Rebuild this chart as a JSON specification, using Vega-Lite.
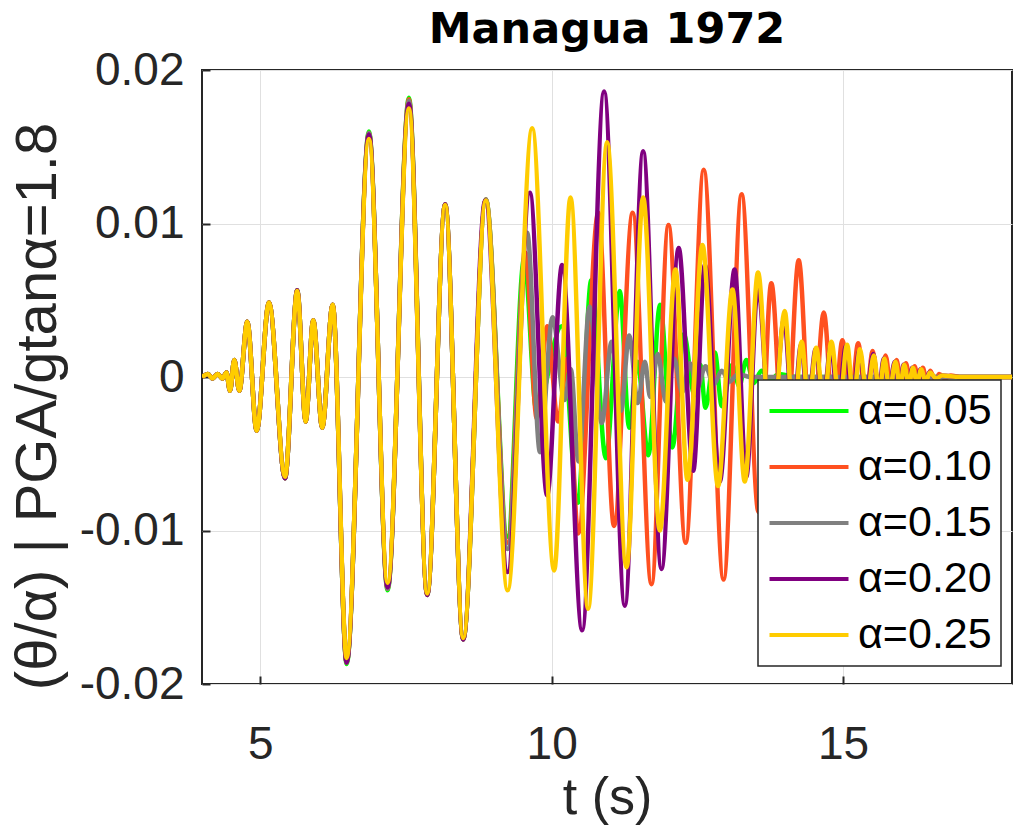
{
"$schema":"https://vega.github.io/schema/vega-lite/v6.json",
"width":810,"height":614,
"autosize":{"type":"none"},
"padding":{"left":202,"top":70,"right":1,"bottom":143},
"background":"white",
"title":{"text":"Managua 1972","font":"DejaVu Sans","fontWeight":"bold","fontSize":43,"color":"#000000","offset":0,"dy":5,"anchor":"middle"},
"config":{
 "view":{"stroke":"#262626","strokeWidth":2},
 "axis":{"domain":false,"grid":true,"gridColor":"#e0e0e0","gridWidth":1,"ticks":true,"tickSize":-8,"tickColor":"#262626","tickWidth":2,
  "labelFont":"Liberation Sans","labelFontSize":46,"labelColor":"#262626","titleFont":"Liberation Sans","titleFontWeight":"normal","titleColor":"#262626"},
 "legend":{"symbolType":"M-2,0H2","symbolSize":1560,"symbolOffset":20,"symbolStrokeWidth":4,"labelFont":"Liberation Sans","labelFontSize":43,"labelColor":"#000000","labelOffset":27,"rowPadding":12,"padding":9,"fillColor":"white","strokeColor":"#262626","strokeWidth":1.5,"labelLimit":0}
},
"data":{"values":[
{"s":"α=0.05","t":4.0,"y":0},{"s":"α=0.05","t":4.1,"y":0.0002},{"s":"α=0.05","t":4.18,"y":-0.0001},{"s":"α=0.05","t":4.27,"y":0.0002},{"s":"α=0.05","t":4.35,"y":-0.0001},{"s":"α=0.05","t":4.42,"y":0.0003},{"s":"α=0.05","t":4.48,"y":-0.0009},{"s":"α=0.05","t":4.554,"y":0.0011},{"s":"α=0.05","t":4.64,"y":-0.0009},{"s":"α=0.05","t":4.777,"y":0.0036},{"s":"α=0.05","t":4.938,"y":-0.0035},{"s":"α=0.05","t":5.149,"y":0.00485},{"s":"α=0.05","t":5.424,"y":-0.0066},{"s":"α=0.05","t":5.635,"y":0.00565},{"s":"α=0.05","t":5.779,"y":-0.0029},{"s":"α=0.05","t":5.909,"y":0.0037},{"s":"α=0.05","t":6.063,"y":-0.0033},{"s":"α=0.05","t":6.242,"y":0.0047},{"s":"α=0.05","t":6.482,"y":-0.0187},{"s":"α=0.05","t":6.865,"y":0.016},{"s":"α=0.05","t":7.185,"y":-0.0139},{"s":"α=0.05","t":7.551,"y":0.0182},{"s":"α=0.05","t":7.865,"y":-0.0142},{"s":"α=0.05","t":8.173,"y":0.01125},{"s":"α=0.05","t":8.482,"y":-0.0171},{"s":"α=0.05","t":8.871,"y":0.01156},
{"s":"α=0.05","t":9.244,"y":-0.0104},{"s":"α=0.05","t":9.528,"y":0.0077},{"s":"α=0.05","t":9.74,"y":-0.0022},{"s":"α=0.05","t":10.17,"y":0.0033},{"s":"α=0.05","t":10.45,"y":-0.0082},{"s":"α=0.05","t":10.68,"y":0.0063},{"s":"α=0.05","t":10.93,"y":-0.0053},{"s":"α=0.05","t":11.17,"y":0.0056},{"s":"α=0.05","t":11.33,"y":-0.0033},{"s":"α=0.05","t":11.47,"y":0.001},{"s":"α=0.05","t":11.66,"y":-0.0051},{"s":"α=0.05","t":11.86,"y":0.0047},{"s":"α=0.05","t":12.07,"y":-0.0046},{"s":"α=0.05","t":12.27,"y":0.0028},{"s":"α=0.05","t":12.45,"y":-0.0012},{"s":"α=0.05","t":12.55,"y":0.0008},{"s":"α=0.05","t":12.64,"y":-0.002},{"s":"α=0.05","t":12.8,"y":0.0016},{"s":"α=0.05","t":12.92,"y":-0.0019},{"s":"α=0.05","t":13.1,"y":0.0008},{"s":"α=0.05","t":13.22,"y":-0.0006},{"s":"α=0.05","t":13.34,"y":0.0011},{"s":"α=0.05","t":13.47,"y":-0.0004},{"s":"α=0.05","t":13.6,"y":0.0004},{"s":"α=0.05","t":13.75,"y":-0.0002},{"s":"α=0.05","t":13.9,"y":0.0002},{"s":"α=0.05","t":14.2,"y":0},{"s":"α=0.05","t":17.9,"y":0},
{"s":"α=0.10","t":4.0,"y":0},{"s":"α=0.10","t":4.1,"y":0.0002},{"s":"α=0.10","t":4.18,"y":-0.0001},{"s":"α=0.10","t":4.27,"y":0.0002},{"s":"α=0.10","t":4.35,"y":-0.0001},{"s":"α=0.10","t":4.42,"y":0.0003},{"s":"α=0.10","t":4.48,"y":-0.0009},{"s":"α=0.10","t":4.554,"y":0.0011},{"s":"α=0.10","t":4.64,"y":-0.0009},{"s":"α=0.10","t":4.777,"y":0.0036},{"s":"α=0.10","t":4.938,"y":-0.0035},{"s":"α=0.10","t":5.149,"y":0.00485},{"s":"α=0.10","t":5.424,"y":-0.0066},{"s":"α=0.10","t":5.635,"y":0.00565},{"s":"α=0.10","t":5.779,"y":-0.0029},{"s":"α=0.10","t":5.909,"y":0.0037},{"s":"α=0.10","t":6.063,"y":-0.0033},{"s":"α=0.10","t":6.242,"y":0.0047},{"s":"α=0.10","t":6.482,"y":-0.0186},{"s":"α=0.10","t":6.865,"y":0.0159},{"s":"α=0.10","t":7.185,"y":-0.0138},{"s":"α=0.10","t":7.551,"y":0.0181},{"s":"α=0.10","t":7.865,"y":-0.0142},{"s":"α=0.10","t":8.173,"y":0.01125},{"s":"α=0.10","t":8.482,"y":-0.0171},{"s":"α=0.10","t":8.871,"y":0.01156},
{"s":"α=0.10","t":9.244,"y":-0.0108},{"s":"α=0.10","t":9.552,"y":0.0081},{"s":"α=0.10","t":9.745,"y":-0.0027},{"s":"α=0.10","t":9.925,"y":0.0033},{"s":"α=0.10","t":10.11,"y":-0.0029},{"s":"α=0.10","t":10.27,"y":0.0012},{"s":"α=0.10","t":10.455,"y":-0.0102},{"s":"α=0.10","t":10.8,"y":0.0107},{"s":"α=0.10","t":11.07,"y":-0.0097},{"s":"α=0.10","t":11.39,"y":0.0107},{"s":"α=0.10","t":11.713,"y":-0.0135},{"s":"α=0.10","t":12.005,"y":0.0099},{"s":"α=0.10","t":12.3,"y":-0.0108},{"s":"α=0.10","t":12.61,"y":0.0135},{"s":"α=0.10","t":12.95,"y":-0.0132},{"s":"α=0.10","t":13.26,"y":0.0119},{"s":"α=0.10","t":13.55,"y":-0.0088},{"s":"α=0.10","t":13.77,"y":0.0061},{"s":"α=0.10","t":14.0,"y":-0.0065},{"s":"α=0.10","t":14.24,"y":0.0076},{"s":"α=0.10","t":14.46,"y":-0.0052},{"s":"α=0.10","t":14.67,"y":0.0042},{"s":"α=0.10","t":14.84,"y":-0.003},{"s":"α=0.10","t":14.99,"y":0.0024},{"s":"α=0.10","t":15.13,"y":-0.0019},{"s":"α=0.10","t":15.26,"y":0.0022},{"s":"α=0.10","t":15.39,"y":-0.0016},{"s":"α=0.10","t":15.51,"y":0.0017},{"s":"α=0.10","t":15.62,"y":-0.0013},{"s":"α=0.10","t":15.73,"y":0.0014},{"s":"α=0.10","t":15.83,"y":-0.001},{"s":"α=0.10","t":15.92,"y":0.0011},{"s":"α=0.10","t":16.0,"y":-0.0008},{"s":"α=0.10","t":16.08,"y":0.0009},{"s":"α=0.10","t":16.16,"y":-0.0006},{"s":"α=0.10","t":16.23,"y":0.0007},{"s":"α=0.10","t":16.3,"y":-0.0005},{"s":"α=0.10","t":16.37,"y":0.0006},{"s":"α=0.10","t":16.44,"y":-0.0004},{"s":"α=0.10","t":16.5,"y":0.0004},{"s":"α=0.10","t":16.58,"y":-0.0003},{"s":"α=0.10","t":16.65,"y":0.0002},{"s":"α=0.10","t":16.75,"y":-0.0001},{"s":"α=0.10","t":16.85,"y":0.0001},{"s":"α=0.10","t":17.0,"y":0},{"s":"α=0.10","t":17.9,"y":0},
{"s":"α=0.15","t":4.0,"y":0},{"s":"α=0.15","t":4.1,"y":0.0002},{"s":"α=0.15","t":4.18,"y":-0.0001},{"s":"α=0.15","t":4.27,"y":0.0002},{"s":"α=0.15","t":4.35,"y":-0.0001},{"s":"α=0.15","t":4.42,"y":0.0003},{"s":"α=0.15","t":4.48,"y":-0.0009},{"s":"α=0.15","t":4.554,"y":0.0011},{"s":"α=0.15","t":4.64,"y":-0.0009},{"s":"α=0.15","t":4.777,"y":0.0036},{"s":"α=0.15","t":4.938,"y":-0.0035},{"s":"α=0.15","t":5.149,"y":0.00485},{"s":"α=0.15","t":5.424,"y":-0.0066},{"s":"α=0.15","t":5.635,"y":0.00565},{"s":"α=0.15","t":5.779,"y":-0.0029},{"s":"α=0.15","t":5.909,"y":0.0037},{"s":"α=0.15","t":6.063,"y":-0.0033},{"s":"α=0.15","t":6.242,"y":0.0047},{"s":"α=0.15","t":6.482,"y":-0.0186},{"s":"α=0.15","t":6.865,"y":0.0159},{"s":"α=0.15","t":7.185,"y":-0.0138},{"s":"α=0.15","t":7.551,"y":0.018},{"s":"α=0.15","t":7.865,"y":-0.0142},{"s":"α=0.15","t":8.173,"y":0.01125},{"s":"α=0.15","t":8.482,"y":-0.0171},{"s":"α=0.15","t":8.871,"y":0.01156},
{"s":"α=0.15","t":9.244,"y":-0.0112},{"s":"α=0.15","t":9.58,"y":0.0094},{"s":"α=0.15","t":9.8,"y":-0.0049},{"s":"α=0.15","t":10.015,"y":0.0039},{"s":"α=0.15","t":10.22,"y":-0.0015},{"s":"α=0.15","t":10.33,"y":0.0005},{"s":"α=0.15","t":10.46,"y":-0.0055},{"s":"α=0.15","t":10.65,"y":0.0046},{"s":"α=0.15","t":10.86,"y":-0.003},{"s":"α=0.15","t":11.03,"y":0.0023},{"s":"α=0.15","t":11.19,"y":-0.0022},{"s":"α=0.15","t":11.33,"y":0.0027},{"s":"α=0.15","t":11.48,"y":-0.0017},{"s":"α=0.15","t":11.6,"y":0.001},{"s":"α=0.15","t":11.69,"y":-0.0013},{"s":"α=0.15","t":11.82,"y":0.0015},{"s":"α=0.15","t":11.96,"y":-0.0016},{"s":"α=0.15","t":12.1,"y":0.0012},{"s":"α=0.15","t":12.24,"y":-0.001},{"s":"α=0.15","t":12.37,"y":0.0009},{"s":"α=0.15","t":12.5,"y":-0.0007},{"s":"α=0.15","t":12.64,"y":0.0007},{"s":"α=0.15","t":12.78,"y":-0.0005},{"s":"α=0.15","t":12.92,"y":0.0004},{"s":"α=0.15","t":13.05,"y":-0.0003},{"s":"α=0.15","t":13.2,"y":0.0002},{"s":"α=0.15","t":13.4,"y":0},{"s":"α=0.15","t":17.9,"y":0},
{"s":"α=0.20","t":4.0,"y":0},{"s":"α=0.20","t":4.1,"y":0.0002},{"s":"α=0.20","t":4.18,"y":-0.0001},{"s":"α=0.20","t":4.27,"y":0.0002},{"s":"α=0.20","t":4.35,"y":-0.0001},{"s":"α=0.20","t":4.42,"y":0.0003},{"s":"α=0.20","t":4.48,"y":-0.0009},{"s":"α=0.20","t":4.554,"y":0.0011},{"s":"α=0.20","t":4.64,"y":-0.0009},{"s":"α=0.20","t":4.777,"y":0.0036},{"s":"α=0.20","t":4.938,"y":-0.0035},{"s":"α=0.20","t":5.149,"y":0.00485},{"s":"α=0.20","t":5.424,"y":-0.0066},{"s":"α=0.20","t":5.635,"y":0.00565},{"s":"α=0.20","t":5.779,"y":-0.0029},{"s":"α=0.20","t":5.909,"y":0.0037},{"s":"α=0.20","t":6.063,"y":-0.0033},{"s":"α=0.20","t":6.242,"y":0.0047},{"s":"α=0.20","t":6.482,"y":-0.0186},{"s":"α=0.20","t":6.865,"y":0.0158},{"s":"α=0.20","t":7.185,"y":-0.0137},{"s":"α=0.20","t":7.551,"y":0.0178},{"s":"α=0.20","t":7.865,"y":-0.0142},{"s":"α=0.20","t":8.173,"y":0.01125},{"s":"α=0.20","t":8.482,"y":-0.0171},{"s":"α=0.20","t":8.86,"y":0.0115},
{"s":"α=0.20","t":9.244,"y":-0.0127},{"s":"α=0.20","t":9.626,"y":0.012},{"s":"α=0.20","t":9.923,"y":-0.0077},{"s":"α=0.20","t":10.18,"y":0.0073},{"s":"α=0.20","t":10.523,"y":-0.0165},{"s":"α=0.20","t":10.9,"y":0.0186},{"s":"α=0.20","t":11.256,"y":-0.0149},{"s":"α=0.20","t":11.57,"y":0.0147},{"s":"α=0.20","t":11.885,"y":-0.0125},{"s":"α=0.20","t":12.18,"y":0.0084},{"s":"α=0.20","t":12.43,"y":-0.0061},{"s":"α=0.20","t":12.63,"y":0.0073},{"s":"α=0.20","t":12.885,"y":-0.0068},{"s":"α=0.20","t":13.14,"y":0.007},{"s":"α=0.20","t":13.34,"y":-0.0065},{"s":"α=0.20","t":13.54,"y":0.0059},{"s":"α=0.20","t":13.77,"y":-0.0045},{"s":"α=0.20","t":13.99,"y":0.0038},{"s":"α=0.20","t":14.14,"y":-0.0028},{"s":"α=0.20","t":14.28,"y":0.0021},{"s":"α=0.20","t":14.4,"y":-0.0018},{"s":"α=0.20","t":14.53,"y":0.0018},{"s":"α=0.20","t":14.66,"y":-0.0017},{"s":"α=0.20","t":14.79,"y":0.002},{"s":"α=0.20","t":14.92,"y":-0.0017},{"s":"α=0.20","t":15.05,"y":0.002},{"s":"α=0.20","t":15.16,"y":-0.0015},{"s":"α=0.20","t":15.28,"y":0.0017},{"s":"α=0.20","t":15.4,"y":-0.0012},{"s":"α=0.20","t":15.52,"y":0.0015},{"s":"α=0.20","t":15.61,"y":-0.001},{"s":"α=0.20","t":15.7,"y":0.0012},{"s":"α=0.20","t":15.79,"y":-0.0008},{"s":"α=0.20","t":15.89,"y":0.001},{"s":"α=0.20","t":15.97,"y":-0.0007},{"s":"α=0.20","t":16.04,"y":0.0008},{"s":"α=0.20","t":16.12,"y":-0.0005},{"s":"α=0.20","t":16.19,"y":0.0006},{"s":"α=0.20","t":16.26,"y":-0.0004},{"s":"α=0.20","t":16.33,"y":0.0005},{"s":"α=0.20","t":16.41,"y":-0.0003},{"s":"α=0.20","t":16.48,"y":0.0003},{"s":"α=0.20","t":16.6,"y":-0.0001},{"s":"α=0.20","t":16.7,"y":0.0001},{"s":"α=0.20","t":17.0,"y":0},{"s":"α=0.20","t":17.9,"y":0},
{"s":"α=0.25","t":4.0,"y":0},{"s":"α=0.25","t":4.1,"y":0.0002},{"s":"α=0.25","t":4.18,"y":-0.0001},{"s":"α=0.25","t":4.27,"y":0.0002},{"s":"α=0.25","t":4.35,"y":-0.0001},{"s":"α=0.25","t":4.42,"y":0.0003},{"s":"α=0.25","t":4.48,"y":-0.0009},{"s":"α=0.25","t":4.554,"y":0.0011},{"s":"α=0.25","t":4.64,"y":-0.0009},{"s":"α=0.25","t":4.777,"y":0.0036},{"s":"α=0.25","t":4.938,"y":-0.0035},{"s":"α=0.25","t":5.149,"y":0.00485},{"s":"α=0.25","t":5.424,"y":-0.0065},{"s":"α=0.25","t":5.635,"y":0.0056},{"s":"α=0.25","t":5.779,"y":-0.0029},{"s":"α=0.25","t":5.909,"y":0.0037},{"s":"α=0.25","t":6.063,"y":-0.0033},{"s":"α=0.25","t":6.242,"y":0.0047},{"s":"α=0.25","t":6.482,"y":-0.0183},{"s":"α=0.25","t":6.865,"y":0.0155},{"s":"α=0.25","t":7.185,"y":-0.0134},{"s":"α=0.25","t":7.551,"y":0.0175},{"s":"α=0.25","t":7.865,"y":-0.0141},{"s":"α=0.25","t":8.173,"y":0.0112},{"s":"α=0.25","t":8.482,"y":-0.017},{"s":"α=0.25","t":8.871,"y":0.0115},
{"s":"α=0.25","t":9.244,"y":-0.0139},{"s":"α=0.25","t":9.666,"y":0.0162},{"s":"α=0.25","t":10.043,"y":-0.0126},{"s":"α=0.25","t":10.324,"y":0.0117},{"s":"α=0.25","t":10.626,"y":-0.0151},{"s":"α=0.25","t":10.952,"y":0.0153},{"s":"α=0.25","t":11.285,"y":-0.0124},{"s":"α=0.25","t":11.57,"y":0.0117},{"s":"α=0.25","t":11.856,"y":-0.01},{"s":"α=0.25","t":12.125,"y":0.007},{"s":"α=0.25","t":12.331,"y":-0.0067},{"s":"α=0.25","t":12.588,"y":0.0086},{"s":"α=0.25","t":12.856,"y":-0.0071},{"s":"α=0.25","t":13.103,"y":0.0057},{"s":"α=0.25","t":13.314,"y":-0.0068},{"s":"α=0.25","t":13.542,"y":0.0068},{"s":"α=0.25","t":13.77,"y":-0.0052},{"s":"α=0.25","t":14.0,"y":0.0043},{"s":"α=0.25","t":14.15,"y":-0.0032},{"s":"α=0.25","t":14.29,"y":0.0023},{"s":"α=0.25","t":14.41,"y":-0.0019},{"s":"α=0.25","t":14.54,"y":0.0019},{"s":"α=0.25","t":14.67,"y":-0.0019},{"s":"α=0.25","t":14.8,"y":0.0023},{"s":"α=0.25","t":14.94,"y":-0.0019},{"s":"α=0.25","t":15.07,"y":0.0021},{"s":"α=0.25","t":15.18,"y":-0.0016},{"s":"α=0.25","t":15.29,"y":0.0018},{"s":"α=0.25","t":15.41,"y":-0.0013},{"s":"α=0.25","t":15.53,"y":0.0014},{"s":"α=0.25","t":15.62,"y":-0.0011},{"s":"α=0.25","t":15.71,"y":0.0012},{"s":"α=0.25","t":15.8,"y":-0.0009},{"s":"α=0.25","t":15.9,"y":0.001},{"s":"α=0.25","t":15.98,"y":-0.0007},{"s":"α=0.25","t":16.05,"y":0.0008},{"s":"α=0.25","t":16.13,"y":-0.0005},{"s":"α=0.25","t":16.2,"y":0.0006},{"s":"α=0.25","t":16.27,"y":-0.0004},{"s":"α=0.25","t":16.34,"y":0.0005},{"s":"α=0.25","t":16.42,"y":-0.0003},{"s":"α=0.25","t":16.49,"y":0.0003},{"s":"α=0.25","t":16.6,"y":-0.0001},{"s":"α=0.25","t":16.7,"y":0.0001},{"s":"α=0.25","t":17.0,"y":0},{"s":"α=0.25","t":17.9,"y":0}
]},
"mark":{"type":"line","interpolate":"monotone","strokeWidth":4.5,"clip":true},
"encoding":{
 "x":{"field":"t","type":"quantitative","scale":{"domain":[4,17.9],"nice":false,"zero":false},
  "axis":{"values":[5,10,15],"title":"t (s)","titleFontSize":52,"titlePadding":5,"labelPadding":46,"labelFlush":false}},
 "y":{"field":"y","type":"quantitative","scale":{"domain":[-0.02,0.02],"nice":false},
  "axis":{"values":[-0.02,-0.01,0,0.01,0.02],"labelExpr":"datum.value == 0 ? '0' : replace(format(datum.value, '.2f'), '\u2212', '-')","title":"(θ/α) | PGA/gtanα=1.8","titleFontSize":58,"titlePadding":12,"titleY":336,"labelPadding":26,"labelFlush":false}},
 "color":{"field":"s","type":"nominal","sort":null,
  "scale":{"domain":["α=0.05","α=0.10","α=0.15","α=0.20","α=0.25"],"range":["#00ff00","#ff5020","#808080","#800080","#ffcc00"]},
  "legend":{"orient":"none","legendX":556,"legendY":310,"title":null}}
}
}
